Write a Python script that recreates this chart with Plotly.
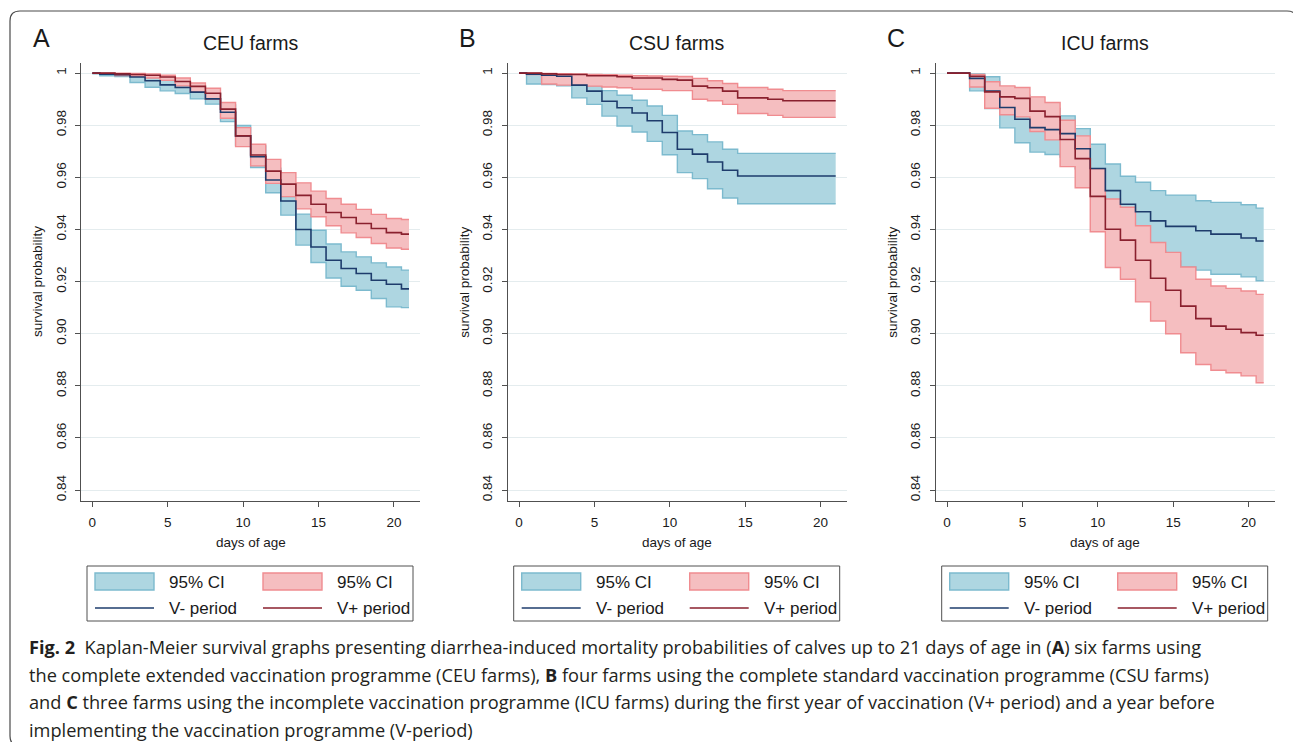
import plotly.graph_objects as go

W, H = 1293, 742

# ---------------- data ----------------
step_days = [0, 0.5, 1.5, 2.5, 3.5, 4.5, 5.5, 6.5, 7.5, 8.5, 9.5, 10.5,
             11.5, 12.5, 13.5, 14.5, 15.5, 16.5, 17.5, 18.5, 19.5, 20.5, 21]

# Panel A - CEU farms
ceu_vminus = [1.0, 0.9996, 0.9994, 0.9985, 0.9971, 0.9955, 0.9945, 0.9927, 0.9901, 0.9850, 0.9759,
              0.9679, 0.9590, 0.9509, 0.9400, 0.9333, 0.9282, 0.9250, 0.9231, 0.9205, 0.9190, 0.9172, 0.9172]
ceu_vminus_hi = [1.0, 0.9999, 0.9997, 0.9994, 0.9985, 0.9972, 0.9959, 0.9944, 0.9921, 0.9878, 0.9799,
                 0.9721, 0.9635, 0.9526, 0.9459, 0.9397, 0.9344, 0.9314, 0.9295, 0.9272, 0.9256, 0.9244, 0.9244]
ceu_vminus_lo = [0.9997, 0.9990, 0.9987, 0.9964, 0.9946, 0.9932, 0.9922, 0.9901, 0.9881, 0.9814, 0.9724,
                 0.9638, 0.9541, 0.9455, 0.9340, 0.9273, 0.9214, 0.9182, 0.9167, 0.9135, 0.9103, 0.9100, 0.9100]
ceu_vplus = [1.0, 1.0, 0.9997, 0.9995, 0.9992, 0.9985, 0.9968, 0.9949, 0.9923, 0.9862, 0.9759,
             0.9686, 0.9624, 0.9574, 0.9531, 0.9497, 0.9465, 0.9446, 0.9423, 0.9404, 0.9388, 0.9382, 0.9382]
ceu_vplus_hi = [1.0, 1.0, 1.0, 0.9999, 0.9997, 0.9992, 0.9981, 0.9962, 0.9942, 0.9887, 0.9791,
                0.9727, 0.9669, 0.9618, 0.9579, 0.9547, 0.9519, 0.9497, 0.9477, 0.9458, 0.9442, 0.9438, 0.9438]
ceu_vplus_lo = [0.9999, 0.9997, 0.9991, 0.9988, 0.9981, 0.9972, 0.9951, 0.9929, 0.9900, 0.9827, 0.9718,
                0.9644, 0.9577, 0.9526, 0.9479, 0.9449, 0.9414, 0.9387, 0.9369, 0.9346, 0.9329, 0.9324, 0.9324]

# Panel B - CSU farms
csu_vminus = [1.0, 0.9996, 0.9992, 0.9988, 0.9954, 0.9931, 0.9892, 0.9867, 0.9847, 0.9817, 0.9772,
              0.9708, 0.9689, 0.9659, 0.9627, 0.9605, 0.9605, 0.9605, 0.9605, 0.9605, 0.9605, 0.9605, 0.9605]
csu_vminus_hi = [1.0, 0.9997, 0.9995, 0.9993, 0.9985, 0.9951, 0.9933, 0.9915, 0.9896, 0.9874, 0.9838,
                 0.9778, 0.9764, 0.9736, 0.9708, 0.9692, 0.9692, 0.9692, 0.9692, 0.9692, 0.9692, 0.9692, 0.9692]
csu_vminus_lo = [1.0, 0.9958, 0.9956, 0.9951, 0.9905, 0.9880, 0.9835, 0.9797, 0.9774, 0.9738, 0.9687,
                 0.9618, 0.9595, 0.9556, 0.9521, 0.9499, 0.9499, 0.9499, 0.9499, 0.9499, 0.9499, 0.9499, 0.9499]
csu_vplus = [1.0, 1.0, 0.9997, 0.9995, 0.9995, 0.9990, 0.9990, 0.9986, 0.9981, 0.9981, 0.9976,
             0.9973, 0.9950, 0.9944, 0.9931, 0.9905, 0.9905, 0.9900, 0.9894, 0.9894, 0.9894, 0.9894, 0.9894]
csu_vplus_hi = [1.0, 1.0, 0.9999, 0.9998, 0.9997, 0.9995, 0.9994, 0.9992, 0.9990, 0.9989, 0.9988,
                0.9987, 0.9980, 0.9971, 0.9960, 0.9945, 0.9945, 0.9938, 0.9933, 0.9933, 0.9933, 0.9933, 0.9933]
csu_vplus_lo = [1.0, 0.9995, 0.9958, 0.9954, 0.9954, 0.9950, 0.9947, 0.9944, 0.9938, 0.9938, 0.9933,
                0.9933, 0.9900, 0.9894, 0.9880, 0.9845, 0.9845, 0.9838, 0.9830, 0.9830, 0.9830, 0.9830, 0.9830]

# Panel C - ICU farms
icu_vminus = [1.0, 1.0, 0.9980, 0.9931, 0.9868, 0.9823, 0.9791, 0.9783, 0.9768, 0.9710, 0.9634,
              0.9549, 0.9497, 0.9468, 0.9433, 0.9412, 0.9412, 0.9395, 0.9382, 0.9382, 0.9367, 0.9356, 0.9356]
icu_vminus_hi = [1.0, 1.0, 0.9997, 0.9986, 0.9947, 0.9915, 0.9883, 0.9864, 0.9836, 0.9787, 0.9727,
                 0.9651, 0.9604, 0.9581, 0.9549, 0.9532, 0.9532, 0.9510, 0.9504, 0.9504, 0.9495, 0.9482, 0.9482]
icu_vminus_lo = [1.0, 1.0, 0.9932, 0.9864, 0.9790, 0.9733, 0.9697, 0.9688, 0.9678, 0.9633, 0.9556,
                 0.9446, 0.9395, 0.9356, 0.9318, 0.9279, 0.9256, 0.9244, 0.9228, 0.9228, 0.9218, 0.9203, 0.9203]
icu_vplus = [1.0, 1.0, 0.9988, 0.9928, 0.9909, 0.9903, 0.9854, 0.9833, 0.9745, 0.9672, 0.9527,
             0.9401, 0.9359, 0.9282, 0.9213, 0.9167, 0.9106, 0.9058, 0.9029, 0.9017, 0.9004, 0.8994, 0.8994]
icu_vplus_hi = [1.0, 1.0, 0.9995, 0.9967, 0.9951, 0.9945, 0.9909, 0.9887, 0.9819, 0.9759, 0.9633,
                0.9517, 0.9485, 0.9414, 0.9350, 0.9312, 0.9256, 0.9209, 0.9183, 0.9174, 0.9164, 0.9151, 0.9151]
icu_vplus_lo = [1.0, 1.0, 0.9947, 0.9865, 0.9840, 0.9832, 0.9776, 0.9744, 0.9641, 0.9560, 0.9391,
                0.9254, 0.9209, 0.9122, 0.9049, 0.9000, 0.8927, 0.8882, 0.8860, 0.8850, 0.8838, 0.8812, 0.8812]

panel_letters = ["A", "B", "C"]
panel_titles = ["CEU farms", "CSU farms", "ICU farms"]
x_ticks = [0, 5, 10, 15, 20]
y_ticks = [0.84, 0.86, 0.88, 0.90, 0.92, 0.94, 0.96, 0.98, 1.0]
y_ticklabels = ["0.84", "0.86", "0.88", "0.90", "0.92", "0.94", "0.96", "0.98", "1"]
x_title = "days of age"
y_title = "survival probability"
ci_label = "95% CI"
vminus_label = "V- period"
vplus_label = "V+ period"
caption_lines = [
    "<b>Fig. 2</b>  Kaplan-Meier survival graphs presenting diarrhea-induced mortality probabilities of calves up to 21 days of age in (<b>A</b>) six farms using",
    "the complete extended vaccination programme (CEU farms), <b>B</b> four farms using the complete standard vaccination programme (CSU farms)",
    "and <b>C</b> three farms using the incomplete vaccination programme (ICU farms) during the first year of vaccination (V+ period) and a year before",
    "implementing the vaccination programme (V-period)",
]

panels = [
    (ceu_vminus, ceu_vminus_lo, ceu_vminus_hi, ceu_vplus, ceu_vplus_lo, ceu_vplus_hi),
    (csu_vminus, csu_vminus_lo, csu_vminus_hi, csu_vplus, csu_vplus_lo, csu_vplus_hi),
    (icu_vminus, icu_vminus_lo, icu_vminus_hi, icu_vplus, icu_vplus_lo, icu_vplus_hi),
]

# ---------------- styling ----------------
BLUE_FILL = "rgb(174,214,225)"
BLUE_EDGE = "rgb(124,186,206)"
RED_FILL = "rgb(245,190,192)"
RED_EDGE = "rgb(240,140,144)"
BLUE_LINE = "rgb(30,60,108)"
RED_LINE = "rgb(138,32,46)"
AXIS_COL = "#505050"
GRID_COL = "#e4ecee"
TXT = "#1a1a1a"
ARIAL = "Liberation Sans, Arial, sans-serif"
CAP_FONT = "Open Sans, sans-serif"


def px(p):
    return p / W


def py(p):
    return 1 - p / H


x_pix = [(81.0, 420.3), (507.7, 847.0), (935.7, 1275.0)]
y_dom = [py(501.0), py(62.7)]

fig = go.Figure()
annotations = []
shapes = []

for i, (vm, vm_lo, vm_hi, vp, vp_lo, vp_hi) in enumerate(panels):
    sfx = "" if i == 0 else str(i + 1)
    xa, ya = "x" + sfx, "y" + sfx
    common = dict(mode="lines", xaxis=xa, yaxis=ya, hoverinfo="skip", showlegend=False)
    # bands
    fig.add_trace(go.Scatter(x=step_days, y=vm_hi, line=dict(shape="hv", color=BLUE_EDGE, width=1.4), **common))
    fig.add_trace(go.Scatter(x=step_days, y=vm_lo, line=dict(shape="hv", color=BLUE_EDGE, width=1.4),
                             fill="tonexty", fillcolor=BLUE_FILL, **common))
    fig.add_trace(go.Scatter(x=step_days, y=vp_hi, line=dict(shape="hv", color=RED_EDGE, width=1.4), **common))
    fig.add_trace(go.Scatter(x=step_days, y=vp_lo, line=dict(shape="hv", color=RED_EDGE, width=1.4),
                             fill="tonexty", fillcolor=RED_FILL, **common))
    # survival lines
    fig.add_trace(go.Scatter(x=step_days, y=vm, line=dict(shape="hv", color=BLUE_LINE, width=1.6), **common))
    fig.add_trace(go.Scatter(x=step_days, y=vp, line=dict(shape="hv", color=RED_LINE, width=1.6), **common))

    x0, x1 = x_pix[i]
    fig.update_layout(**{
        "xaxis" + sfx: dict(domain=[px(x0), px(x1)], range=[-0.75, 21.75], anchor=ya,
                            tickvals=x_ticks, ticks="outside", ticklen=5, tickcolor=AXIS_COL,
                            showline=True, linecolor=AXIS_COL, linewidth=1, showgrid=False,
                            zeroline=False, tickfont=dict(family=ARIAL, size=13.5, color=TXT),
                            ticklabelstandoff=4, fixedrange=True),
        "yaxis" + sfx: dict(domain=y_dom, range=[0.8358, 1.004], anchor=xa,
                            tickvals=y_ticks, ticktext=y_ticklabels, tickangle=-90,
                            ticks="outside", ticklen=5, tickcolor=AXIS_COL,
                            showline=True, linecolor=AXIS_COL, linewidth=1,
                            showgrid=True, gridcolor=GRID_COL, gridwidth=1, zeroline=False,
                            tickfont=dict(family=ARIAL, size=13.5, color=TXT),
                            ticklabelstandoff=4, fixedrange=True),
    })

    off = x0 - 81.0
    cx = (x0 + x1) / 2
    # panel title and letter
    annotations.append(dict(x=px(cx), y=py(43), text=panel_titles[i], showarrow=False,
                            xref="paper", yref="paper", xanchor="center", yanchor="middle",
                            font=dict(family=ARIAL, size=19.5, color=TXT)))
    annotations.append(dict(x=px(41 + off), y=py(38), text=panel_letters[i], showarrow=False,
                            xref="paper", yref="paper", xanchor="center", yanchor="middle",
                            font=dict(family=ARIAL, size=25, color=TXT)))
    # axis titles
    annotations.append(dict(x=px(cx), y=py(542), text=x_title, showarrow=False,
                            xref="paper", yref="paper", xanchor="center", yanchor="middle",
                            font=dict(family=ARIAL, size=13.5, color=TXT)))
    annotations.append(dict(x=px(37 + off), y=py(282), text=y_title, showarrow=False, textangle=-90,
                            xref="paper", yref="paper", xanchor="center", yanchor="middle",
                            font=dict(family=ARIAL, size=13.5, color=TXT)))
    # legend box
    shapes.append(dict(type="rect", xref="paper", yref="paper",
                       x0=px(87 + off), x1=px(413 + off), y0=py(621), y1=py(566),
                       line=dict(color=AXIS_COL, width=1), fillcolor="white", layer="above"))
    shapes.append(dict(type="rect", xref="paper", yref="paper",
                       x0=px(95 + off), x1=px(154 + off), y0=py(590), y1=py(573),
                       line=dict(color=BLUE_EDGE, width=1.4), fillcolor=BLUE_FILL, layer="above"))
    shapes.append(dict(type="rect", xref="paper", yref="paper",
                       x0=px(263 + off), x1=px(322 + off), y0=py(590), y1=py(573),
                       line=dict(color=RED_EDGE, width=1.4), fillcolor=RED_FILL, layer="above"))
    shapes.append(dict(type="line", xref="paper", yref="paper",
                       x0=px(95 + off), x1=px(154 + off), y0=py(608), y1=py(608),
                       line=dict(color=BLUE_LINE, width=1.6), layer="above"))
    shapes.append(dict(type="line", xref="paper", yref="paper",
                       x0=px(263 + off), x1=px(322 + off), y0=py(608), y1=py(608),
                       line=dict(color=RED_LINE, width=1.6), layer="above"))
    for tx, ty, label in [(167, 582, ci_label), (335, 582, ci_label),
                          (167, 608, vminus_label), (335, 608, vplus_label)]:
        annotations.append(dict(x=px(tx + off), y=py(ty), text=label, showarrow=False,
                                xref="paper", yref="paper", xanchor="left", yanchor="middle",
                                font=dict(family=ARIAL, size=17, color=TXT)))

# caption
for k, line in enumerate(caption_lines):
    annotations.append(dict(x=px(27), y=py(647 + 27.7 * k), text=line, showarrow=False,
                            xref="paper", yref="paper", xanchor="left", yanchor="middle",
                            font=dict(family=CAP_FONT, size=18.2, color="#231f20")))

# outer rounded frame
L, T, R, B, r = 10, 11, 1297, 746, 10
frame = (f"M {px(L)},{py(T + r)} L {px(L)},{py(B - r)} Q {px(L)},{py(B)} {px(L + r)},{py(B)} "
         f"L {px(R - r)},{py(B)} Q {px(R)},{py(B)} {px(R)},{py(B - r)} "
         f"L {px(R)},{py(T + r)} Q {px(R)},{py(T)} {px(R - r)},{py(T)} "
         f"L {px(L + r)},{py(T)} Q {px(L)},{py(T)} {px(L)},{py(T + r)} Z")
shapes.append(dict(type="path", xref="paper", yref="paper", path=frame,
                   line=dict(color="#4a4a4a", width=1.2), layer="above"))

fig.update_layout(width=W, height=H, margin=dict(l=0, r=0, t=0, b=0),
                  paper_bgcolor="white", plot_bgcolor="white",
                  annotations=annotations, shapes=shapes, showlegend=False)

fig.write_html("out.html", config={"displayModeBar": False},
               post_script="document.body.style.margin='0';document.body.style.overflow='hidden';")
